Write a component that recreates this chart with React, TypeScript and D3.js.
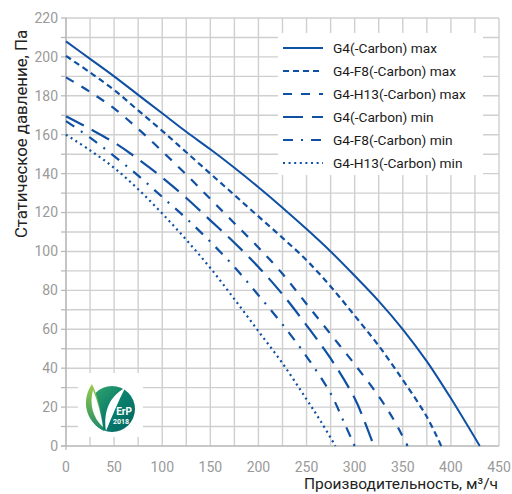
import React from "react";
import * as d3 from "d3";

const xs1 = [0, 25, 50, 75, 100, 125, 150, 175, 200, 225, 250, 275, 300, 325, 350, 375, 400, 430];
const g4Max = [208, 199, 190, 180.5, 171, 161.5, 152.5, 143, 133, 122.5, 111.5, 100, 87.5, 74.5, 60, 43.5, 24.5, 0];

const xs2 = [0, 25, 50, 75, 100, 125, 150, 175, 200, 225, 250, 275, 300, 325, 350, 375, 390];
const g4f8Max = [200.5, 192, 183, 172.5, 162, 151, 140, 129, 118, 107, 95.5, 82, 67, 51.5, 34, 15, 0];

const xs3 = [0, 25, 50, 75, 100, 125, 150, 175, 200, 225, 250, 275, 300, 325, 340, 355];
const g4h13Max = [189.5, 182, 173.5, 163, 151.5, 139.5, 127, 114.5, 102, 88.5, 73, 57.5, 42, 25.5, 14, 0];

const xs4 = [0, 25, 50, 75, 100, 125, 150, 175, 200, 225, 250, 275, 300, 310, 320];
const g4Min = [169.5, 163, 156, 147.5, 138, 127.5, 116, 104.5, 92, 78, 62, 45, 24.5, 13, 0];

const xs5 = [0, 25, 50, 75, 100, 125, 150, 175, 200, 225, 250, 275, 290, 300];
const g4f8Min = [167, 158.5, 149, 139, 128, 117, 105, 92, 77.5, 62.5, 46, 27, 11, 0];

const xs6 = [0, 25, 50, 75, 100, 125, 150, 175, 200, 225, 250, 265, 280];
const g4h13Min = [160, 152, 143, 132, 119.5, 106, 91.5, 75.5, 59, 42.5, 24, 12.5, 0];

const seriesNames = [
  "G4(-Carbon) max",
  "G4-F8(-Carbon) max",
  "G4-H13(-Carbon) max",
  "G4(-Carbon) min",
  "G4-F8(-Carbon) min",
  "G4-H13(-Carbon) min",
];
const seriesX = [xs1, xs2, xs3, xs4, xs5, xs6];
const seriesY = [g4Max, g4f8Max, g4h13Max, g4Min, g4f8Min, g4h13Min];
const dashes = ["", "6,4", "9,9", "20,9", "10,8,2,8", "2,3.6"];

const xTicks = [0, 50, 100, 150, 200, 250, 300, 350, 400, 450];
const yTicks = [0, 20, 40, 60, 80, 100, 120, 140, 160, 180, 200, 220];

const BLUE = "#0f50a3";

export default function App() {
  const W = 512, H = 494;
  const x = d3.scaleLinear().domain([0, 450]).range([66, 499]);
  const y = d3.scaleLinear().domain([0, 220]).range([446, 18]);
  const line = d3
    .line<[number, number]>()
    .x((d) => x(d[0]))
    .y((d) => y(d[1]))
    .curve(d3.curveCatmullRom.alpha(0.5));

  const vGrid = d3.range(0, 451, 25);
  const hGrid = d3.range(0, 221, 10);

  return (
    <svg width={W} height={H} style={{ position: "absolute", left: 0, top: 0 }}>
      <defs>
        <linearGradient id="erpCircle" x1="0" y1="0" x2="1" y2="1">
          <stop offset="0" stopColor="#3aa86a" />
          <stop offset="0.5" stopColor="#0a7f6c" />
          <stop offset="1" stopColor="#006563" />
        </linearGradient>
        <linearGradient id="leafGrad" x1="0" y1="0" x2="0" y2="1">
          <stop offset="0" stopColor="#9ccc4a" />
          <stop offset="1" stopColor="#1a8a6a" />
        </linearGradient>
      </defs>
      <rect x={0} y={0} width={W} height={H} fill="#fff" />
      {/* grid */}
      {vGrid.map((v) => (
        <line key={"v" + v} x1={x(v)} x2={x(v)} y1={y(220)} y2={y(0)} stroke="#cfcfcf" strokeWidth={1.4} />
      ))}
      {hGrid.map((v) => (
        <line key={"h" + v} x1={x(0)} x2={x(450)} y1={y(v)} y2={y(v)} stroke="#cfcfcf" strokeWidth={1.4} />
      ))}
      {/* axes */}
      <line x1={x(0)} x2={x(0)} y1={y(220)} y2={y(0) + 4} stroke="#b5b5b5" strokeWidth={1.2} />
      <line x1={x(0) - 5} x2={x(450)} y1={y(0)} y2={y(0)} stroke="#b5b5b5" strokeWidth={1.2} />
      {hGrid.map((v) => (
        <line key={"yt" + v} x1={x(0) - 5} x2={x(0)} y1={y(v)} y2={y(v)} stroke="#b5b5b5" strokeWidth={1.2} />
      ))}
      {yTicks.map((v) => (
        <text key={"yl" + v} x={58} y={y(v)} dy="0.35em" textAnchor="end" fontFamily="Roboto" fontSize={14} fill="#9a9a9a">
          {v}
        </text>
      ))}
      {xTicks.map((v) => (
        <text key={"xl" + v} x={x(v)} y={467} dy="0.35em" textAnchor="middle" fontFamily="Roboto" fontSize={14} fill="#9a9a9a">
          {v}
        </text>
      ))}
      <text x={498} y={484} dy="0.35em" textAnchor="end" fontFamily="Roboto" fontSize={15.5} fill="#222">
        Производительность, м³/ч
      </text>
      <text
        transform={`translate(21,134) rotate(-90)`}
        textAnchor="middle"
        dy="0.35em"
        fontFamily="Roboto"
        fontSize={16.8}
        fill="#222"
      >
        Статическое давление, Па
      </text>
      {/* curves */}
      {seriesX.map((xsArr, i) => {
        const pts = xsArr.map((xv, j) => [xv, seriesY[i][j]] as [number, number]);
        return (
          <path
            key={"c" + i}
            d={line(pts) || ""}
            fill="none"
            stroke={BLUE}
            strokeWidth={i === 0 ? 2 : 2.2}
            strokeDasharray={dashes[i] || undefined}
          />
        );
      })}
      {/* legend */}
      <rect x={278} y={33} width={205} height={142} fill="#fff" />
      {seriesNames.map((n, i) => {
        const cy = 48 + i * 23;
        return (
          <g key={"lg" + i}>
            <line x1={283} x2={323} y1={cy} y2={cy} stroke={BLUE} strokeWidth={2.2} strokeDasharray={dashes[i] || undefined} />
            <text x={333} y={cy} dy="0.35em" fontFamily="Roboto" fontSize={13.7} fill="#1a1a1a">
              {n}
            </text>
          </g>
        );
      })}
      {/* ErP logo */}
      <rect x={78} y={373} width={65} height={64} fill="#fff" />
      <circle cx={112} cy={409} r={23} fill="url(#erpCircle)" />
      <path d="M92,384 C81,400 85,421 104,431 C102,418 100,401 92,384 Z" fill="url(#leafGrad)" />
      <path d="M93,390 C89,404 93,418 103,427 C101,414 98,402 93,390 Z" fill="#fff" />
      <path d="M125,388 C110,396 103,411 106,431 C112,416 118,402 125,388 Z" fill="#fff" />
      <text x={124} y={415} textAnchor="middle" fontFamily="Roboto" fontWeight="bold" fontSize={10} fill="#fff">
        ErP
      </text>
      <text x={121} y={424} textAnchor="middle" fontFamily="Roboto" fontWeight="bold" fontSize={7} fill="#fff">
        2018
      </text>
    </svg>
  );
}
